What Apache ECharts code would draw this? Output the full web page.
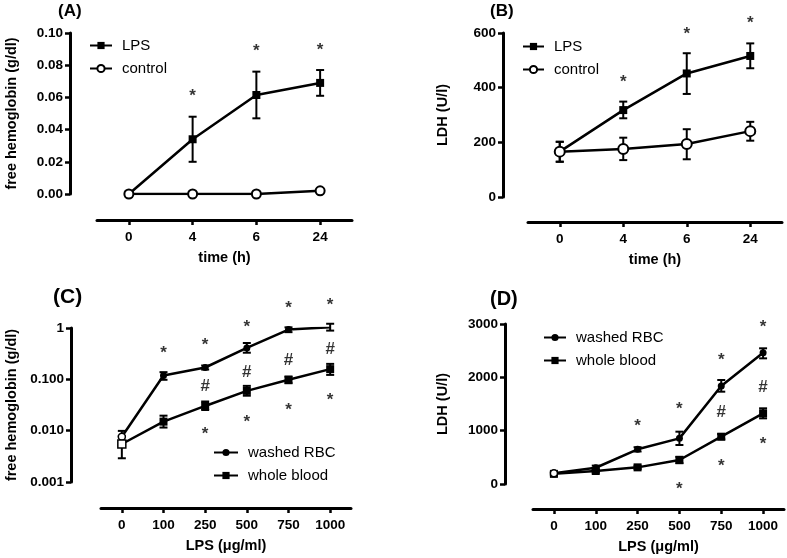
<!DOCTYPE html>
<html><head><meta charset="utf-8">
<script src="https://cdn.jsdelivr.net/npm/echarts@6/dist/echarts.min.js"></script>
<style>html,body{margin:0;padding:0;background:#fff}#c{width:787px;height:558px}</style>
</head><body><div id="c"></div>
<script>
// ---------- data ----------
const timeCats = ['0', '4', '6', '24'];
const lpsCats = ['0', '100', '250', '500', '750', '1000'];

// (A) free hemoglobin (g/dl)
const aLPS = [0, 0.034, 0.0615, 0.069];
const aLPSLow = [0, 0.020, 0.047, 0.061];
const aLPSHigh = [0, 0.048, 0.076, 0.077];
const aCtrl = [0, 0, 0, 0.002];
const aCtrlLow = [0, 0, 0, 0.001];
const aCtrlHigh = [0, 0, 0, 0.003];
const aStars = [['4', 0.063], ['6', 0.091], ['24', 0.092]];
const aTicks = ['0.00', '0.02', '0.04', '0.06', '0.08', '0.10'];

// (B) LDH (U/l)
const bLPS = [166, 318, 452, 516];
const bLPSLow = [129, 288, 377, 471];
const bLPSHigh = [202, 349, 526, 562];
const bCtrl = [166, 176, 194, 241];
const bCtrlLow = [129, 135, 138, 206];
const bCtrlHigh = [202, 217, 248, 275];
const bStars = [['4', 434], ['6', 611], ['24', 651]];

// (C) free hemoglobin (g/dl), log scale
const cWashed = [0.0076, 0.119, 0.170, 0.41, 0.93, 1.03];
const cWashedLow = [0.0053, 0.098, 0.155, 0.33, 0.83, 0.89];
const cWashedHigh = [0.0099, 0.138, 0.186, 0.51, 1.03, 1.21];
const cWhole = [0.0055, 0.015, 0.0303, 0.0596, 0.098, 0.158];
const cWholeLow = [0.0029, 0.0115, 0.0253, 0.048, 0.084, 0.122];
const cWholeHigh = [0.0078, 0.0196, 0.037, 0.0746, 0.113, 0.20];
const cStarsTop = [['100', 0.377], ['250', 0.55], ['500', 1.25], ['750', 2.94], ['1000', 3.3]];
const cHash = [['250', 0.072], ['500', 0.136], ['750', 0.24], ['1000', 0.377]];
const cStarsBottom = [['250', 0.0100], ['500', 0.0175], ['750', 0.0303], ['1000', 0.046]];
const cTickValues = [0.001, 0.01, 0.1, 1];
const cTickLabels = ['0.001', '0.010', '0.100', '1'];

// (D) LDH (U/l)
const dWashed = [200, 305, 650, 856, 1837, 2462];
const dWashedLow = [170, 265, 610, 731, 1731, 2356];
const dWashedHigh = [230, 345, 690, 981, 1950, 2544];
const dWhole = [190, 244, 312, 450, 887, 1325];
const dWholeLow = [160, 214, 282, 390, 837, 1231];
const dWholeHigh = [220, 274, 342, 510, 937, 1419];
const dStarsTop = [['250', 1150], ['500', 1481], ['750', 2400], ['1000', 3012]];
const dHash = [['750', 1344], ['1000', 1812]];
const dStarsBottom = [['500', -19], ['750', 400], ['1000', 825]];

// ---------- styling helpers ----------
const FONT = 'Liberation Sans, Arial, sans-serif';
const BLACK = '#000';
const LBL = { fontFamily: FONT, fontWeight: 'bold', fontSize: 13.5, color: BLACK, margin: 7 };

function xAxisCfg(gi, cats, name, offset) {
  return {
    type: 'category', gridIndex: gi, data: cats, boundaryGap: true, offset: offset,
    name: name, nameLocation: 'middle', nameGap: 30,
    nameTextStyle: { fontFamily: FONT, fontWeight: 'bold', fontSize: 14.5, color: BLACK },
    axisLine: { show: true, onZero: false, lineStyle: { color: BLACK, width: 3 } },
    axisTick: { show: true, alignWithLabel: true, length: 5, lineStyle: { color: BLACK, width: 2.5 } },
    axisLabel: Object.assign({}, LBL, { margin: 10 }),
    splitLine: { show: false }
  };
}
function yAxisCfg(gi, extra, name, offset, gap) {
  return Object.assign({
    type: 'value', gridIndex: gi, offset: offset,
    name: name, nameLocation: 'middle', nameGap: gap, nameRotate: 90,
    nameTextStyle: { fontFamily: FONT, fontWeight: 'bold', fontSize: 14.5, color: BLACK },
    axisLine: { show: true, onZero: false, lineStyle: { color: BLACK, width: 3 } },
    axisTick: { show: true, length: 5, lineStyle: { color: BLACK, width: 2.5 } },
    axisLabel: Object.assign({}, LBL, { formatter: v => String(v) }),
    splitLine: { show: false }
  }, extra);
}
function errorRender(params, api) {
  const x = api.value(0), lo = api.value(1), hi = api.value(2);
  if (!(hi > lo)) return null;
  const a = api.coord([x, hi]), b = api.coord([x, lo]);
  const w = 4;
  const st = { stroke: BLACK, lineWidth: 2 };
  return {
    type: 'group', children: [
      { type: 'line', shape: { x1: a[0], y1: a[1], x2: b[0], y2: b[1] }, style: st },
      { type: 'line', shape: { x1: a[0] - w, y1: a[1], x2: a[0] + w, y2: a[1] }, style: st },
      { type: 'line', shape: { x1: b[0] - w, y1: b[1], x2: b[0] + w, y2: b[1] }, style: st }
    ]
  };
}
function errSeries(gi, low, high) {
  return {
    type: 'custom', xAxisIndex: gi, yAxisIndex: gi, renderItem: errorRender, silent: true, z: 1,
    encode: { x: 0, y: [1, 2] }, clip: false,
    data: low.map((l, i) => [i, l, high[i]])
  };
}
function lineSeries(gi, name, values, symbol, size, hollowAll, hollowFirst) {
  return {
    type: 'line', name: name, xAxisIndex: gi, yAxisIndex: gi, z: 3,
    symbol: symbol, symbolSize: size,
    lineStyle: { color: BLACK, width: 2.5 },
    itemStyle: hollowAll ? { color: '#fff', borderColor: BLACK, borderWidth: 2 } : { color: BLACK, borderColor: BLACK, borderWidth: 0 },
    emphasis: { disabled: true },
    data: values.map((v, i) => (hollowFirst && i === 0)
      ? { value: v, itemStyle: { color: '#fff', borderColor: BLACK, borderWidth: 1.5 } } : v)
  };
}
function markSeries(gi, pts, txt) {
  return {
    type: 'scatter', xAxisIndex: gi, yAxisIndex: gi, symbolSize: 1, symbol: 'circle',
    itemStyle: { color: 'rgba(0,0,0,0)' }, silent: true, clip: false, z: 5,
    label: {
      show: true, position: 'inside', formatter: txt, fontFamily: FONT, fontWeight: 'bold',
      fontSize: 17, color: BLACK, offset: txt === '*' ? [0, 4] : [0, 0]
    },
    data: pts
  };
}
function legendCfg(names, left, top, w) {
  return {
    data: names, orient: 'vertical', left: left, top: top, itemWidth: w, itemHeight: 9, itemGap: 8,
    padding: 0, selectedMode: false,
    textStyle: { fontFamily: FONT, fontSize: 15, color: BLACK, padding: [0, 0, 0, 5] }
  };
}
function titleCfg(text, left, top, size) {
  return { text: text, left: left, top: top, padding: 0,
    textStyle: { fontFamily: FONT, fontWeight: 'bold', fontSize: size, color: BLACK } };
}

const option = {
  backgroundColor: '#fff',
  animation: false,
  title: [
    titleCfg('(A)', 58, 3, 17), titleCfg('(B)', 490, 3, 17),
    titleCfg('(C)', 53, 287, 21), titleCfg('(D)', 490, 289, 20)
  ],
  legend: [
    legendCfg(['LPS', 'control'], 89, 38, 22),
    legendCfg(['LPS', 'control'], 522, 39, 21),
    legendCfg(['washed RBC', 'whole blood'], 213, 445, 24),
    legendCfg(['washed RBC', 'whole blood'], 543, 330, 22)
  ],
  grid: [
    { left: 97, top: 33, width: 255, height: 161 },
    { left: 528, top: 33, width: 254, height: 164 },
    { left: 101, top: 328, width: 250, height: 154 },
    { left: 533, top: 324, width: 251, height: 160 }
  ],
  xAxis: [
    xAxisCfg(0, timeCats, 'time (h)', 26),
    xAxisCfg(1, timeCats, 'time (h)', 25),
    xAxisCfg(2, lpsCats, 'LPS (μg/ml)', 26),
    xAxisCfg(3, lpsCats, 'LPS (μg/ml)', 25)
  ],
  yAxis: [
    yAxisCfg(0, { min: 0, max: 0.1, interval: 0.02,
      axisLabel: Object.assign({}, LBL, { formatter: v => aTicks[Math.round(v / 0.02)] }) },
      'free hemoglobin (g/dl)', 27, 51),
    yAxisCfg(1, { min: 0, max: 600, interval: 200 }, 'LDH (U/l)', 25, 53),
    yAxisCfg(2, { type: 'log', logBase: 10, min: 0.001, max: 1,
      axisLabel: Object.assign({}, LBL, {
        formatter: v => { const i = cTickValues.findIndex(t => Math.abs(Math.log10(t) - Math.log10(v)) < 1e-6); return i >= 0 ? cTickLabels[i] : ''; } }) },
      'free hemoglobin (g/dl)', 30, 52),
    yAxisCfg(3, { min: 0, max: 3000, interval: 1000 }, 'LDH (U/l)', 28, 55)
  ],
  series: [
    errSeries(0, aLPSLow, aLPSHigh), errSeries(0, aCtrlLow, aCtrlHigh),
    lineSeries(0, 'LPS', aLPS, 'rect', 8, false, false),
    lineSeries(0, 'control', aCtrl, 'circle', 9, true, false),
    markSeries(0, aStars, '*'),

    errSeries(1, bLPSLow, bLPSHigh), errSeries(1, bCtrlLow, bCtrlHigh),
    lineSeries(1, 'LPS', bLPS, 'rect', 8, false, false),
    lineSeries(1, 'control', bCtrl, 'circle', 10, true, false),
    markSeries(1, bStars, '*'),

    errSeries(2, cWashedLow, cWashedHigh), errSeries(2, cWholeLow, cWholeHigh),
    lineSeries(2, 'washed RBC', cWashed, 'circle', 7, false, true),
    lineSeries(2, 'whole blood', cWhole, 'rect', 8, false, true),
    markSeries(2, cStarsTop, '*'), markSeries(2, cHash, '#'), markSeries(2, cStarsBottom, '*'),

    errSeries(3, dWashedLow, dWashedHigh), errSeries(3, dWholeLow, dWholeHigh),
    lineSeries(3, 'whole blood', dWhole, 'rect', 8, false, false),
    lineSeries(3, 'washed RBC', dWashed, 'circle', 7, false, true),
    markSeries(3, dStarsTop, '*'), markSeries(3, dHash, '#'), markSeries(3, dStarsBottom, '*')
  ]
};
const chart = echarts.init(document.getElementById('c'), null, { renderer: 'canvas' });
chart.setOption(option);
</script></body></html>
